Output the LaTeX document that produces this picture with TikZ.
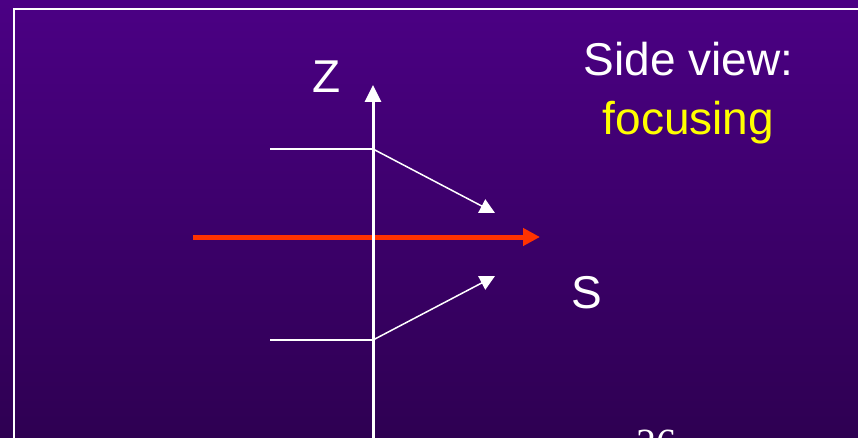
\documentclass[tikz,border=0pt]{standalone}
\usepackage{fontspec}
\setmainfont{Liberation Sans}
\newfontfamily\pagefont{Liberation Serif}
\usetikzlibrary{arrows.meta}

\definecolor{slidetop}{RGB}{75,0,132}
\definecolor{slidebottom}{RGB}{46,0,82}
\definecolor{beamred}{RGB}{255,51,0}
\definecolor{hiyellow}{RGB}{255,255,0}

\begin{document}
\begin{tikzpicture}[x=1pt, y=-1pt,
    bigtext/.style={text=white, font=\fontsize{46}{56}\selectfont, inner sep=0pt, anchor=base},
    pagenum/.style={text=white, font=\pagefont\fontsize{40}{48}\selectfont, inner sep=0pt, anchor=base},
    axisline/.style={white, line width=3pt, -{Triangle[length=17pt,width=16pt]}},
    ray/.style={white, line width=1.5pt},
    rayarrow/.style={ray, -{Triangle[length=15pt,width=15pt]}},
    beam/.style={beamred, line width=5pt, -{Triangle[length=17pt,width=17pt]}}
]

% Slide background
\useasboundingbox (0,0) rectangle (858,438);
\clip (0,0) rectangle (858,438);
\shade[top color=slidetop, bottom color=slidebottom] (0,0) rectangle (858,438);
\draw[white, line width=1.8pt] (14,9) rectangle (880,470);

% Points
\coordinate (axisbot) at (373,445);
\coordinate (axistop) at (373,85);
\coordinate (upper) at (373,149);
\coordinate (lower) at (373,340);
\coordinate (upperin) at (270,149);
\coordinate (lowerin) at (270,340);
\coordinate (uppertip) at (495,213);
\coordinate (lowertip) at (495,276);
\coordinate (beamin) at (193,237);
\coordinate (beamtip) at (540,237);

% Beam
\draw[beam] (beamin) -- (beamtip);

% Axis
\draw[axisline] (axisbot) -- (axistop);

% Incoming and focused rays
\draw[ray] (upperin) -- (upper);
\draw[rayarrow] (upper) -- (uppertip);
\draw[ray] (lowerin) -- (lower);
\draw[rayarrow] (lower) -- (lowertip);

% Labels
\node[bigtext] (zlabel) at (326.5,93) {Z};
\node[bigtext] (slabel) at (587,308) {S};
\node[bigtext] (title) at (688.5,76) {Side view:};
\node[bigtext, text=hiyellow] (subtitle) at (688.5,135) {focusing};
\node[pagenum] (page) at (656,456) {26};

\end{tikzpicture}
\end{document}
